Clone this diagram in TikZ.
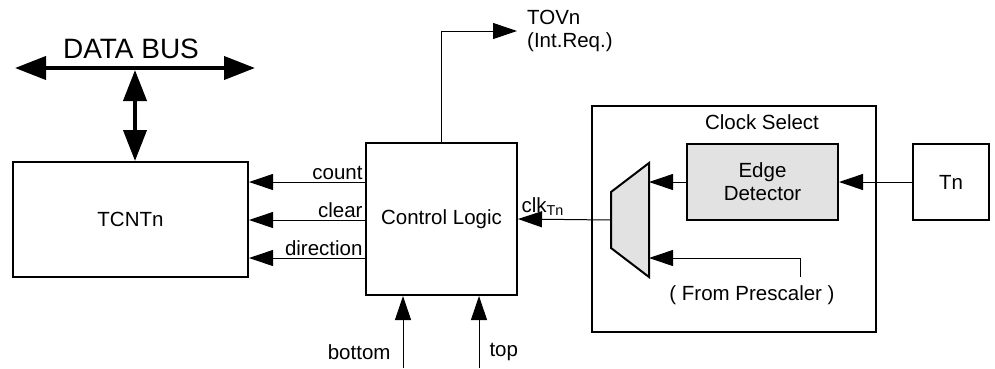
\documentclass[tikz,border=0pt]{standalone}
\usepackage{fontspec}
\setmainfont{Liberation Sans}
\usetikzlibrary{arrows.meta}
\definecolor{boxgray}{HTML}{E2E2E2}
\newcommand\lblsize{\fontsize{20.5}{23}\selectfont}
\newcommand\bussize{\fontsize{28}{32}\selectfont}
\tikzset{
  blk/.style={draw, line width=2pt, inner sep=0pt, font=\lblsize},
  sig/.style={line width=1pt, -{Triangle[length=24pt,width=16pt]}},
  bus/.style={line width=4pt, {Triangle[length=31pt,width=23pt]}-{Triangle[length=31pt,width=23pt]}},
  lbl/.style={font=\lblsize, inner sep=2pt}
}
\begin{document}
\begin{tikzpicture}[x=1pt,y=-1pt]
\useasboundingbox (0,0) rectangle (995,368);
% blocks
\node[blk, minimum width=235pt, minimum height=115pt] (tcnt) at (130.5,219.5) {TCNTn};
\node[blk, minimum width=151pt, minimum height=152pt] (ctrl) at (441.5,219) {Control Logic};
\node[blk, minimum width=284pt, minimum height=226pt] (csel) at (734,219) {};
\node[lbl] at (762,122) {Clock Select};
\node[blk, fill=boxgray, minimum width=151pt, minimum height=76pt, align=center] (edge) at (762.5,182) {Edge\\Detector};
\node[blk, minimum width=76pt, minimum height=76pt] (tn) at (951,182) {Tn};
% mux
\coordinate (muxl) at (611,220);
\coordinate (muxr) at (649,182);
\draw[line width=2pt, fill=boxgray] (611,192) -- (649,163) -- (649,277) -- (611,248) -- cycle;
% data bus
\coordinate (busl) at (15,68);
\coordinate (busr) at (255,68);
\draw[bus] (busl) -- (busr);
\node[inner sep=0pt, font=\bussize] (buslbl) at (131,49) {DATA BUS};
\draw[bus] (135,70) -- (tcnt.north -| 135,0);
% control outputs
\draw[sig] (ctrl.west |- 0,182) -- node[lbl, pos=0, above left] {count} (tcnt.east |- 0,182);
\draw[sig] (ctrl.west |- 0,220) -- node[lbl, pos=0, above left] {clear} (tcnt.east |- 0,220);
\draw[sig] (ctrl.west |- 0,258) -- node[lbl, pos=0, above left] {direction} (tcnt.east |- 0,258);
% bottom / top
\coordinate (bin) at (403,368);
\coordinate (tin) at (479,368);
\draw[sig] (bin) -- node[lbl, pos=0.22, left=10pt] {bottom} (bin |- ctrl.south);
\draw[sig] (tin) -- node[lbl, pos=0.22, right=8pt] {top} (tin |- ctrl.south);
% overflow
\coordinate (tov) at (517,31);
\draw[sig] (ctrl.north) |- (tov);
\node[lbl, anchor=west, align=left] at ([xshift=8pt]tov) {TOVn\\(Int.Req.)};
% clock path
\draw[sig] (muxl) -- node[lbl, pos=1, above right, inner sep=3pt] {clk$_{\mathrm{Tn}}$} (ctrl.east);
\draw[sig] (edge.west) -- (edge.west -| muxr);
\draw[sig] (tn.west) -- (edge.east);
\coordinate (pre) at (800,277);
\draw[sig] (pre) |- (649,258);
\node[lbl] at (752,295) {( From Prescaler )};
\end{tikzpicture}
\end{document}
